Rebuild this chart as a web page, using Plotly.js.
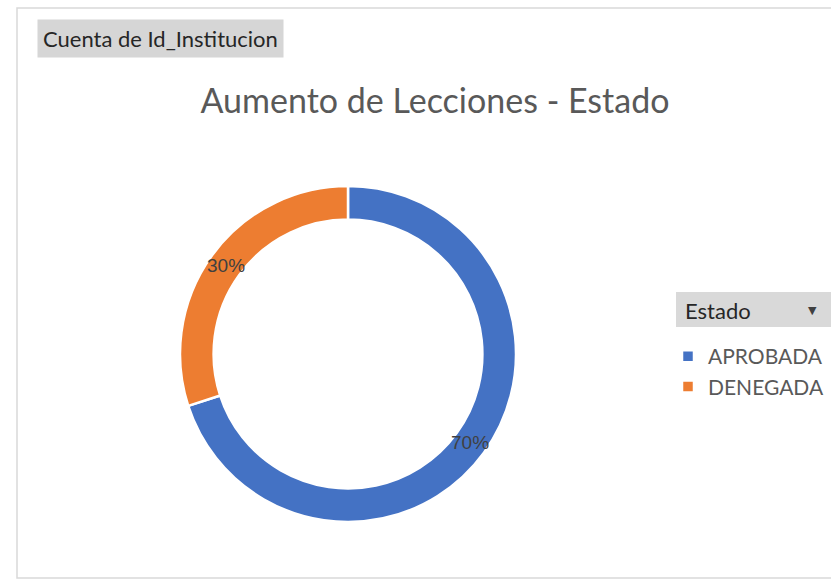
<!DOCTYPE html>
<html>
<head>
<meta charset="utf-8">
<script src="https://cdn.plot.ly/plotly-3.0.1.min.js"></script>
<style>html,body{margin:0;padding:0;background:#fff;}#chart{width:831px;height:582px;}</style>
</head>
<body>
<div id="chart"></div>
<script>
const categories = ["APROBADA", "DENEGADA"];
const values = [70, 30];
const colors = ["#4472C4", "#ED7D31"];
const chartTitle = "Aumento de Lecciones - Estado";
const fieldButton = "Cuenta de Id_Institucion";
const legendTitle = "Estado";

const W = 831, H = 582;
const cx = 348, cy = 354, R = 168, labelR = 151;

const trace = {
  type: "pie",
  labels: categories,
  values: values,
  hole: 0.8,
  sort: false,
  direction: "clockwise",
  rotation: 0,
  marker: {colors: colors, line: {color: "#ffffff", width: 2.5}},
  textinfo: "none",
  domain: {x: [(cx - R) / W, (cx + R) / W], y: [(H - cy - R) / H, (H - cy + R) / H]},
  hoverinfo: "label+percent"
};

// percentage labels placed at the middle of each slice's arc (derived from the values)
const total = values.reduce((a, b) => a + b, 0);
let cum = 0;
const pctAnnotations = values.map(v => {
  const theta = 2 * Math.PI * (cum + v / 2) / total;
  cum += v;
  const px = cx + labelR * Math.sin(theta);
  const py = cy - labelR * Math.cos(theta);
  return {
    text: Math.round(100 * v / total) + "%", xref: "paper", yref: "paper",
    x: px / W, y: 1 - py / H, xanchor: "center", yanchor: "middle", showarrow: false,
    font: {family: "Liberation Sans, Arial, sans-serif", size: 19, color: "#404040"}
  };
});

const layout = {
  width: W, height: H,
  margin: {l: 0, r: 0, t: 0, b: 0},
  paper_bgcolor: "#ffffff",
  font: {family: "Lato, Open Sans, sans-serif", color: "#595959"},
  title: {text: chartTitle, x: 435 / W, xanchor: "center", y: 1 - 101 / H, yanchor: "middle",
          font: {family: "Lato, Open Sans, sans-serif", size: 34, color: "#595959"}},
  showlegend: true,
  legend: {
    x: 668 / W, xanchor: "left", y: 1 - 336 / H, yanchor: "top",
    font: {size: 21, color: "#595959", family: "Lato, Open Sans, sans-serif"},
    bgcolor: "rgba(0,0,0,0)",
    itemwidth: 30
  },
  shapes: [
    {type: "rect", xref: "paper", yref: "paper", x0: 17 / W, x1: 1.02, y0: 1 - 578 / H, y1: 1 - 8 / H,
     line: {color: "#d9d9d9", width: 1.5}, fillcolor: "rgba(0,0,0,0)"},
    {type: "rect", xref: "paper", yref: "paper", x0: 676 / W, x1: 1.02, y0: 1 - 327 / H, y1: 1 - 292 / H,
     line: {width: 0}, fillcolor: "#d9d9d9", layer: "below"}
  ],
  annotations: [
    {text: fieldButton, xref: "paper", yref: "paper", x: 37 / W, xanchor: "left", y: 1 - 39 / H, yanchor: "middle",
     showarrow: false, bgcolor: "#d6d6d6", borderpad: 5, font: {family: "Lato, Open Sans, sans-serif", size: 22, color: "#262626"}},
    {text: legendTitle, xref: "paper", yref: "paper", x: 683 / W, xanchor: "left", y: 1 - 310 / H, yanchor: "middle",
     showarrow: false, font: {family: "Lato, Open Sans, sans-serif", size: 22, color: "#262626"}},
    {text: "▼", xref: "paper", yref: "paper", x: 812 / W, xanchor: "center", y: 1 - 310 / H, yanchor: "middle",
     showarrow: false, font: {family: "DejaVu Sans, sans-serif", size: 11, color: "#404040"}}
  ].concat(pctAnnotations)
};

Plotly.newPlot("chart", [trace], layout, {displayModeBar: false, staticPlot: true});
</script>
</body>
</html>
